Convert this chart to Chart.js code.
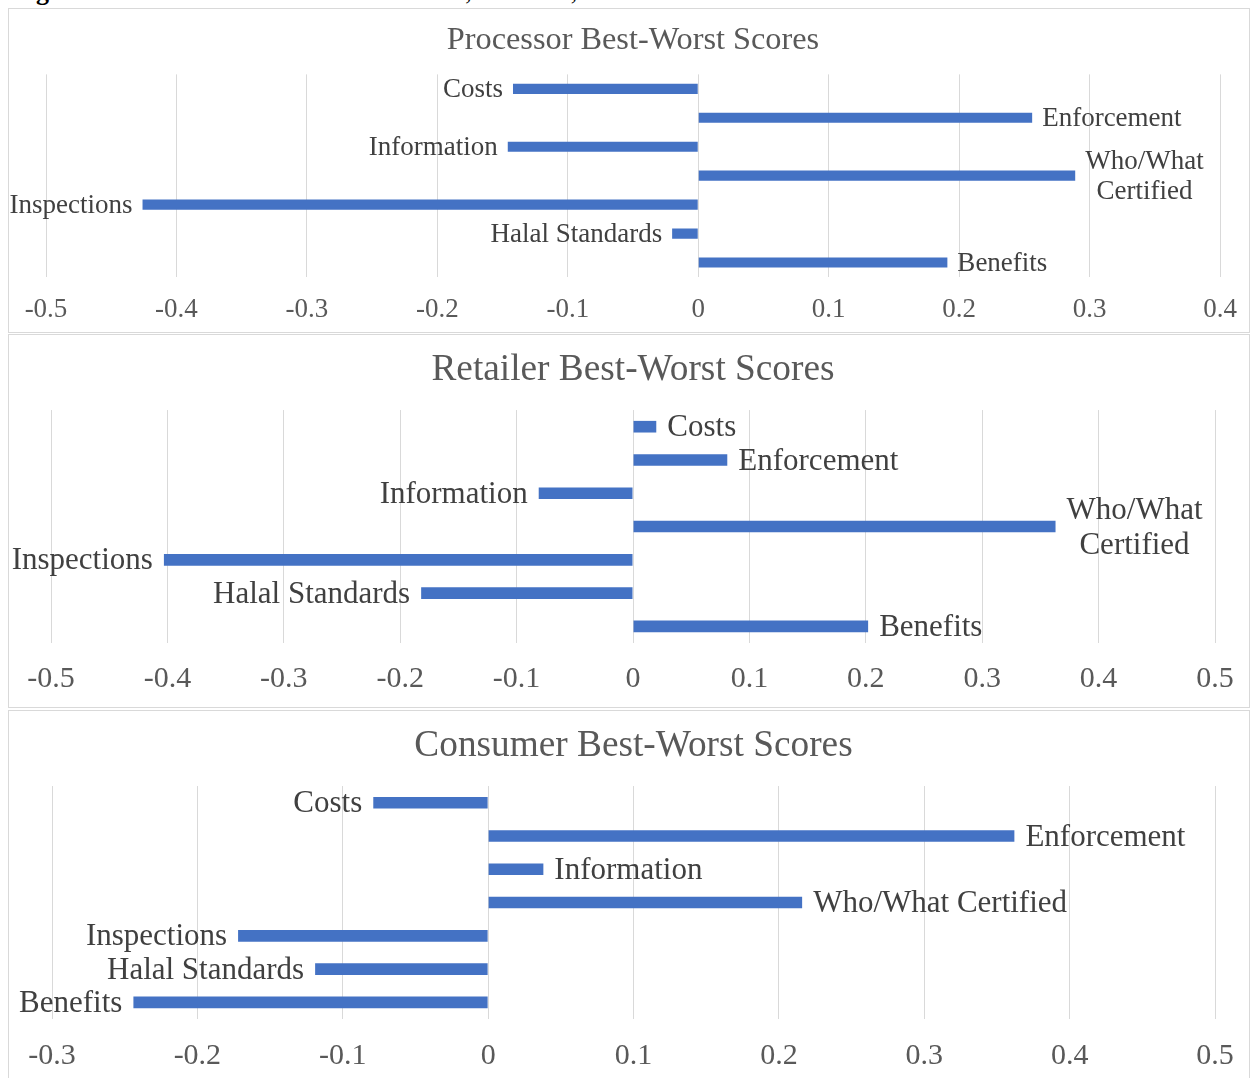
<!DOCTYPE html>
<html><head><meta charset="utf-8">
<script src="https://cdn.jsdelivr.net/npm/chart.js@4"></script>
<style>
html,body{margin:0;padding:0;background:#fff;width:1250px;height:1078px;overflow:hidden;position:relative}
.cap{position:absolute;left:13px;top:-21px;font:26px/26px "Liberation Serif",serif;color:#000;white-space:nowrap}
.cap b{font-weight:bold}
.box{position:absolute;left:8px;width:1240px;border:1px solid #d9d9d9;background:#fff}
.box canvas{position:absolute;left:0;top:0}
</style></head><body>
<div class="cap"><b>Figure 3.</b> Best-Worst Scores for Processors, Retailers, and Consumers</div>
<div class="box" style="top:8px;height:323px"><canvas id="c1" width="1240" height="323"></canvas></div>
<div class="box" style="top:334px;height:372px"><canvas id="c2" width="1240" height="372"></canvas></div>
<div class="box" style="top:710px;height:370px"><canvas id="c3" width="1240" height="370"></canvas></div>
<script>
// ---- data ----
const processorCategories = ["Costs","Enforcement","Information","Who/What Certified","Inspections","Halal Standards","Benefits"];
const processorValues = [-0.142, 0.256, -0.146, 0.289, -0.426, -0.020, 0.191];
const processorTicks = [-0.5,-0.4,-0.3,-0.2,-0.1,0,0.1,0.2,0.3,0.4];
const processorTickLabels = ["-0.5","-0.4","-0.3","-0.2","-0.1","0","0.1","0.2","0.3","0.4"];

const retailerCategories = ["Costs","Enforcement","Information","Who/What Certified","Inspections","Halal Standards","Benefits"];
const retailerValues = [0.020, 0.081, -0.081, 0.363, -0.403, -0.182, 0.202];
const retailerTicks = [-0.5,-0.4,-0.3,-0.2,-0.1,0,0.1,0.2,0.3,0.4,0.5];
const retailerTickLabels = ["-0.5","-0.4","-0.3","-0.2","-0.1","0","0.1","0.2","0.3","0.4","0.5"];

const consumerCategories = ["Costs","Enforcement","Information","Who/What Certified","Inspections","Halal Standards","Benefits"];
const consumerValues = [-0.079, 0.362, 0.038, 0.216, -0.172, -0.119, -0.244];
const consumerTicks = [-0.3,-0.2,-0.1,0,0.1,0.2,0.3,0.4,0.5];
const consumerTickLabels = ["-0.3","-0.2","-0.1","0","0.1","0.2","0.3","0.4","0.5"];

// ---- rendering ----
const FONT = '"Liberation Serif", "Times New Roman", serif';

const barLabels = {
  id: 'barLabels',
  afterDatasetsDraw(chart, args, opts) {
    const ctx = chart.ctx;
    const meta = chart.getDatasetMeta(0);
    const labels = chart.data.labels;
    const vals = chart.data.datasets[0].data;
    ctx.save();
    ctx.font = opts.size + 'px ' + FONT;
    ctx.fillStyle = opts.color;
    ctx.textBaseline = 'middle';
    const lh = opts.size * opts.lineHeight;
    meta.data.forEach((bar, i) => {
      const text = labels[i];
      const v = vals[i];
      const y = bar.y + opts.dy;
      let lines = [text];
      if (v >= 0) {
        const x0 = bar.x + opts.gap;
        const avail = chart.width - opts.edge - x0;
        if (ctx.measureText(text).width > avail) {
          const words = text.split(' ');
          lines = [];
          let cur = '';
          words.forEach(w => {
            const t = cur ? cur + ' ' + w : w;
            if (cur && ctx.measureText(t).width > avail) { lines.push(cur); cur = w; } else cur = t;
          });
          if (cur) lines.push(cur);
        }
        const w = Math.max(...lines.map(l => ctx.measureText(l).width));
        ctx.textAlign = 'center';
        lines.forEach((l, k) => ctx.fillText(l, x0 + w / 2, y + (k - (lines.length - 1) / 2) * lh));
      } else {
        ctx.textAlign = 'right';
        ctx.fillText(text, bar.x - opts.gap, y);
      }
    });
    ctx.restore();
  }
};

function makeChart(id, title, cats, vals, ticks, tickLabels, o) {
  return new Chart(document.getElementById(id), {
    type: 'bar',
    data: {
      labels: cats,
      datasets: [{ data: vals, backgroundColor: '#4472C4', borderWidth: 0, barPercentage: 0.35, categoryPercentage: 1.0 }]
    },
    options: {
      indexAxis: 'y',
      responsive: false,
      animation: false,
      devicePixelRatio: 1,
      layout: { padding: { left: o.padL, right: o.padR, top: 0, bottom: 0 } },
      plugins: {
        legend: { display: false },
        tooltip: { enabled: false },
        title: {
          display: true, text: title, color: '#595959',
          font: { family: FONT, size: o.titleSize, weight: 'normal', lineHeight: 1.2 },
          padding: { top: o.titleTop, bottom: o.titleBottom }
        },
        barLabels: { size: o.labelSize, color: '#404040', gap: o.gap, edge: 6, lineHeight: 1.12, dy: 1.5 }
      },
      scales: {
        x: {
          type: 'linear', min: ticks[0], max: ticks[ticks.length - 1],
          afterBuildTicks: s => { s.ticks = ticks.map(v => ({ value: v })); },
          afterFit: s => { s.height = o.axisH; },
          ticks: {
            color: '#595959', padding: 0, maxRotation: 0, autoSkip: false,
            font: { family: FONT, size: o.tickSize, lineHeight: 1.2 },
            callback: (v, i) => tickLabels[i]
          },
          grid: { color: '#d9d9d9', lineWidth: 1, drawTicks: true, tickLength: o.tickLen, tickColor: 'rgba(0,0,0,0)' },
          border: { display: false }
        },
        y: { type: 'category', display: false, offset: true }
      }
    },
    plugins: [barLabels]
  });
}

makeChart('c1', 'Processor Best-Worst Scores', processorCategories, processorValues, processorTicks, processorTickLabels,
  { padL: 37, padR: 29, titleSize: 32.3, titleTop: 12.3, titleBottom: 14.3, labelSize: 27, tickSize: 27, tickLen: 16.8, axisH: 55, gap: 10 });
makeChart('c2', 'Retailer Best-Worst Scores', retailerCategories, retailerValues, retailerTicks, retailerTickLabels,
  { padL: 42, padR: 34, titleSize: 37.3, titleTop: 12.8, titleBottom: 17.5, labelSize: 31, tickSize: 30, tickLen: 18.5, axisH: 64, gap: 11 });
makeChart('c3', 'Consumer Best-Worst Scores', consumerCategories, consumerValues, consumerTicks, consumerTickLabels,
  { padL: 43, padR: 34, titleSize: 37.3, titleTop: 12.8, titleBottom: 17.5, labelSize: 31, tickSize: 30, tickLen: 19, axisH: 62, gap: 11 });
</script>
</body></html>
